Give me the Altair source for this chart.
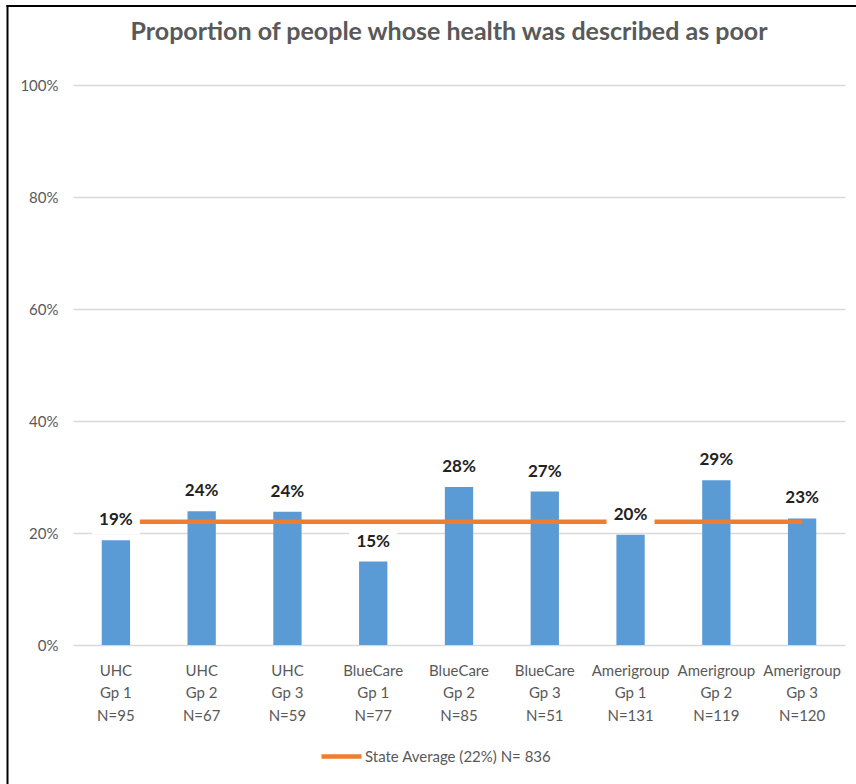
import altair as alt
import pandas as pd

# Survey groups and their shares of people in poor health
plans = ["UHC", "UHC", "UHC", "BlueCare", "BlueCare", "BlueCare",
         "Amerigroup", "Amerigroup", "Amerigroup"]
groups = ["Gp 1", "Gp 2", "Gp 3", "Gp 1", "Gp 2", "Gp 3", "Gp 1", "Gp 2", "Gp 3"]
sample_sizes = [95, 67, 59, 77, 85, 51, 131, 119, 120]
poor_share = [0.187, 0.239, 0.238, 0.149, 0.282, 0.274, 0.197, 0.294, 0.226]
state_average = 0.22
state_n = 836
y_ticks = [0, 0.2, 0.4, 0.6, 0.8, 1.0]

keys = [f"{p}|{g}|N={n}" for p, g, n in zip(plans, groups, sample_sizes)]
bars_df = pd.DataFrame({"group": keys, "share": poor_share})
avg_label = f"State Average ({state_average:.0%}) N= {state_n}"
avg_df = pd.DataFrame({"group": keys,
                       "share": [state_average] * len(keys),
                       "series": [avg_label] * len(keys)})

FONT = "Lato"
GREY = "#595959"
GRID = "#D9D9D9"
BLUE = "#5B9BD5"
ORANGE = "#ED7D31"
# white label backdrop (wider than tall), scaled by the point size
BOX = "M-1,-0.58H1V0.58H-1Z"

x_enc = alt.X(
    "group:N", sort=keys,
    scale=alt.Scale(paddingInner=0.67, paddingOuter=0.335),
    axis=alt.Axis(title=None, labelExpr="split(datum.value, '|')",
                  labelAngle=0, labelFont=FONT, labelFontSize=15,
                  labelColor=GREY, labelLineHeight=22.5, labelPadding=18,
                  labelBaseline="top", ticks=False, domain=False, grid=False),
)
y_enc = alt.Y(
    "share:Q",
    scale=alt.Scale(domain=[0, 1], nice=False),
    axis=alt.Axis(title=None, format=".0%", values=y_ticks, labelFont=FONT,
                  labelFontSize=15, labelColor=GREY, labelPadding=15,
                  ticks=False, domain=False, gridColor=GRID, gridWidth=1.5),
)

bars = alt.Chart(bars_df).mark_bar(color=BLUE).encode(x=x_enc, y=y_enc)

avg_line = alt.Chart(avg_df).mark_line(strokeWidth=4.5).encode(
    x=x_enc, y=y_enc,
    color=alt.Color(
        "series:N", scale=alt.Scale(range=[ORANGE]),
        legend=alt.Legend(title=None, orient="none", legendX=246, legendY=649,
                          padding=0, symbolType="stroke", symbolSize=1600,
                          symbolStrokeWidth=4.5, labelOffset=1, labelLimit=0,
                          labelFont=FONT, labelFontSize=15, labelColor=GREY),
    ),
)

label_boxes = alt.Chart(bars_df).mark_point(
    shape=BOX, filled=True, color="white", opacity=1, size=2304,
    strokeWidth=0, yOffset=-20,
).encode(x=x_enc, y=y_enc)

labels = alt.Chart(bars_df).mark_text(
    font=FONT, fontSize=17, fontWeight="bold", color="#222222",
    baseline="middle", yOffset=-20,
).encode(x=x_enc, y=y_enc, text=alt.Text("share:Q", format=".0%"))

# chart-area frame along the top and left edges
frame_df = pd.DataFrame({"edge": ["frame"]})
frame_left = alt.Chart(frame_df).mark_rule(color="black", strokeWidth=2).encode(
    x=alt.value(-65.5), x2=alt.value(-65.5), y=alt.value(-80), y2=alt.value(720))
frame_top = alt.Chart(frame_df).mark_rule(color="black", strokeWidth=2).encode(
    x=alt.value(-66.5), x2=alt.value(800), y=alt.value(-79), y2=alt.value(-79))

chart = alt.layer(bars, avg_line, label_boxes, labels, frame_left, frame_top).properties(
    width=772, height=560,
    autosize=alt.AutoSizeParams(type="none"),
    padding={"left": 73, "right": 11, "top": 85, "bottom": 139},
    title=alt.TitleParams(
        "Proportion of people whose health was described as poor",
        font=FONT, fontSize=25, fontWeight="bold", color=GREY,
        anchor="middle", offset=-41, dx=-10,
    ),
    background="white",
).configure_view(stroke=None)

chart.save("out.html", embed_options={"renderer": "svg", "actions": False})
